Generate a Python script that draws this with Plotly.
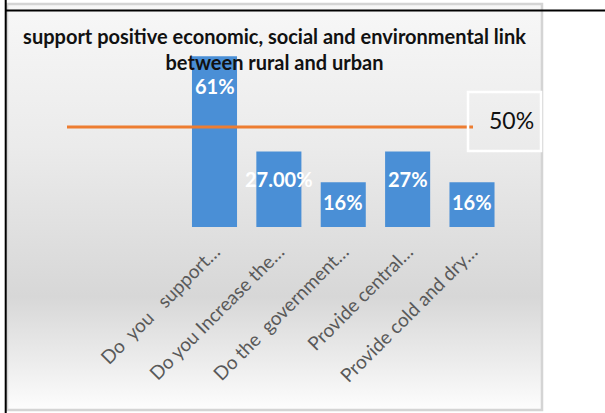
import base64
import plotly.graph_objects as go

# ---- data -------------------------------------------------------------
categories = [
    "Do\u00a0 you\u00a0\u00a0 support…",
    "Do you Increase the…",
    "Do the\u00a0 government…",
    "Provide central…",
    "Provide cold and dry…",
]
shares = [61, 27, 16, 27, 16]          # percent
label_decimals = [0, 2, 0, 0, 0]       # number format of each bar label
threshold = 50                         # reference line, percent
threshold_x = [0, 1]                   # reference line runs across its own axis

title_lines = [
    "support positive economic, social and environmental link",
    "between rural and urban",
]

# ---- styling ----------------------------------------------------------
W, H = 605, 413
FONT = "Lato"
BAR = "#4a8fd6"
ORANGE = "#ed7d31"
label_shift = [-30, -28, -20, -28, -20]   # px below the bar top (label centre)

# chart frame in page pixels
FL, FR, FT, FB = 7, 542, 4, 410
fw, fh = FR - FL, FB - FT


def px_x(x):
    return (x - FL) / fw


def px_y(y):
    return (FB - y) / fh


# soft vertical gradient used as chart background
svg = (
    '<svg xmlns="http://www.w3.org/2000/svg" width="535" height="406" '
    'preserveAspectRatio="none"><defs><linearGradient id="g" x1="0" y1="0" x2="0" y2="1">'
    '<stop offset="0" stop-color="#f7f7f7"/>'
    '<stop offset="0.35" stop-color="#ebebeb"/>'
    '<stop offset="0.72" stop-color="#d7d7d7"/>'
    '<stop offset="0.88" stop-color="#ececec"/>'
    '<stop offset="1" stop-color="#fdfdfd"/>'
    '</linearGradient></defs><rect width="535" height="406" fill="url(#g)"/></svg>'
)
bg_uri = "data:image/svg+xml;base64," + base64.b64encode(svg.encode()).decode()

# plot area (bars) in page pixels
PL, PR, PT, PB = 60, 540, 50, 227
first_center, step = 214.5, 64.375
x_range = [(PL - first_center) / step, (PR - first_center) / step]
px_per_pct = 2.8
y_range = [0, (PB - PT) / px_per_pct]
line_y_px = 127
y2_range = [0, threshold * (PB - PT) / (PB - line_y_px)]

fig = go.Figure()

fig.add_trace(go.Bar(
    x=categories, y=shares,
    marker=dict(color=BAR, line=dict(width=0)),
    xaxis="x", yaxis="y", hoverinfo="skip",
))

fig.add_trace(go.Scatter(
    x=threshold_x, y=[threshold, threshold],
    mode="lines", line=dict(color=ORANGE, width=3),
    xaxis="x2", yaxis="y2", hoverinfo="skip",
))

annotations = []
for cat, v, d, s in zip(categories, shares, label_decimals, label_shift):
    annotations.append(dict(
        x=cat, y=v, xref="x", yref="y", text=f"{v:.{d}f}%",
        showarrow=False, yanchor="middle", yshift=s,
        font=dict(family=FONT, size=20, color="white", weight="bold"),
    ))

annotations.append(dict(
    x=px_x(511), y=px_y(120), xref="paper", yref="paper",
    text=f"{threshold}%", showarrow=False, xanchor="center", yanchor="middle",
    font=dict(family=FONT, size=23, color="#111111"),
))

shapes = [
    # chart frame
    dict(type="rect", xref="paper", yref="paper", x0=0, x1=1, y0=0, y1=1,
         line=dict(color="#d4d4d4", width=2.5), layer="above"),
    # box around the threshold label
    dict(type="rect", xref="paper", yref="paper",
         x0=px_x(468), x1=px_x(541), y0=px_y(151), y1=px_y(92),
         line=dict(color="white", width=2.5), layer="above"),
    # table rules
    dict(type="line", xref="paper", yref="paper",
         x0=px_x(5.7), x1=px_x(5.7), y0=px_y(413), y1=px_y(0),
         line=dict(color="black", width=2)),
    dict(type="line", xref="paper", yref="paper",
         x0=px_x(5), x1=px_x(605), y0=px_y(10.5), y1=px_y(10.5),
         line=dict(color="black", width=2)),
]

fig.update_layout(
    width=W, height=H,
    margin=dict(l=FL, r=W - FR, t=FT, b=H - FB, pad=0),
    paper_bgcolor="white", plot_bgcolor="rgba(0,0,0,0)",
    showlegend=False, bargap=0.30,
    title=dict(
        text="<br>".join(title_lines),
        x=274.5 / W, xref="container", xanchor="center",
        y=1 - 44 / H, yref="container", yanchor="middle",
        font=dict(family=FONT, size=20, color="#111111", weight="bold"),
    ),
    xaxis=dict(
        domain=[px_x(PL), px_x(PR)], range=x_range, type="category",
        showgrid=False, zeroline=False, showline=False, ticks="",
        tickangle=-45, ticklabelstandoff=9,
        tickfont=dict(family=FONT, size=19, color="#595959"),
    ),
    yaxis=dict(
        domain=[px_y(PB), px_y(PT)], range=y_range,
        visible=False,
    ),
    xaxis2=dict(
        domain=[px_x(67), px_x(473)], range=[0, 1], anchor="y2",
        visible=False,
    ),
    yaxis2=dict(
        domain=[px_y(PB), px_y(PT)], range=y2_range, anchor="x2",
        visible=False, overlaying="y",
    ),
    images=[dict(source=bg_uri, xref="paper", yref="paper", x=0, y=1,
                 sizex=1, sizey=1, sizing="stretch", layer="below",
                 xanchor="left", yanchor="top")],
    annotations=annotations,
    shapes=shapes,
)

fig.write_html("out.html")
